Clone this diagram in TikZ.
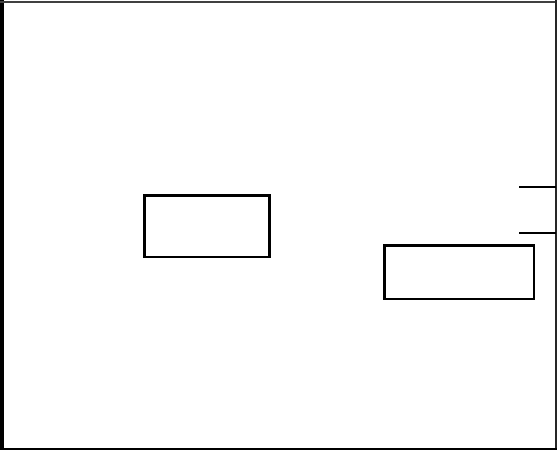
\documentclass[tikz,border=0pt]{standalone}
\usepackage{tikz}
\usetikzlibrary{positioning}
\tikzset{
  blockbox/.style={draw, line width=2.4pt, minimum width=#1, inner sep=0pt},
  stub/.style={line width=1.6pt},
}
\begin{document}
\begin{tikzpicture}[x=1pt, y=-1pt]
    \useasboundingbox (0,0) rectangle (557,450);
    % frame
    \draw[line width=4pt] (2,0) -- (2,450);
    \draw[line width=1.5pt, black!75] (0,2) -- (557,2);
    \draw[line width=2pt, black!85] (556,0) -- (556,450);
    \draw[line width=2pt] (0,449) -- (557,449);
    % blocks
    \node[blockbox=125pt, minimum height=61.7pt] (left) at (206.8,226.2) {};
    \node[blockbox=149.4pt, minimum height=53.7pt] (right) at (459,272.2) {};
    % stubs at the right edge
    \coordinate (upA) at (519,187);
    \coordinate (upB) at (556,187);
    \coordinate (loA) at (519,233);
    \coordinate (loB) at (556,233);
    \draw[stub] (upA) -- (upB);
    \draw[stub] (loA) -- (loB);
\end{tikzpicture}
\end{document}
